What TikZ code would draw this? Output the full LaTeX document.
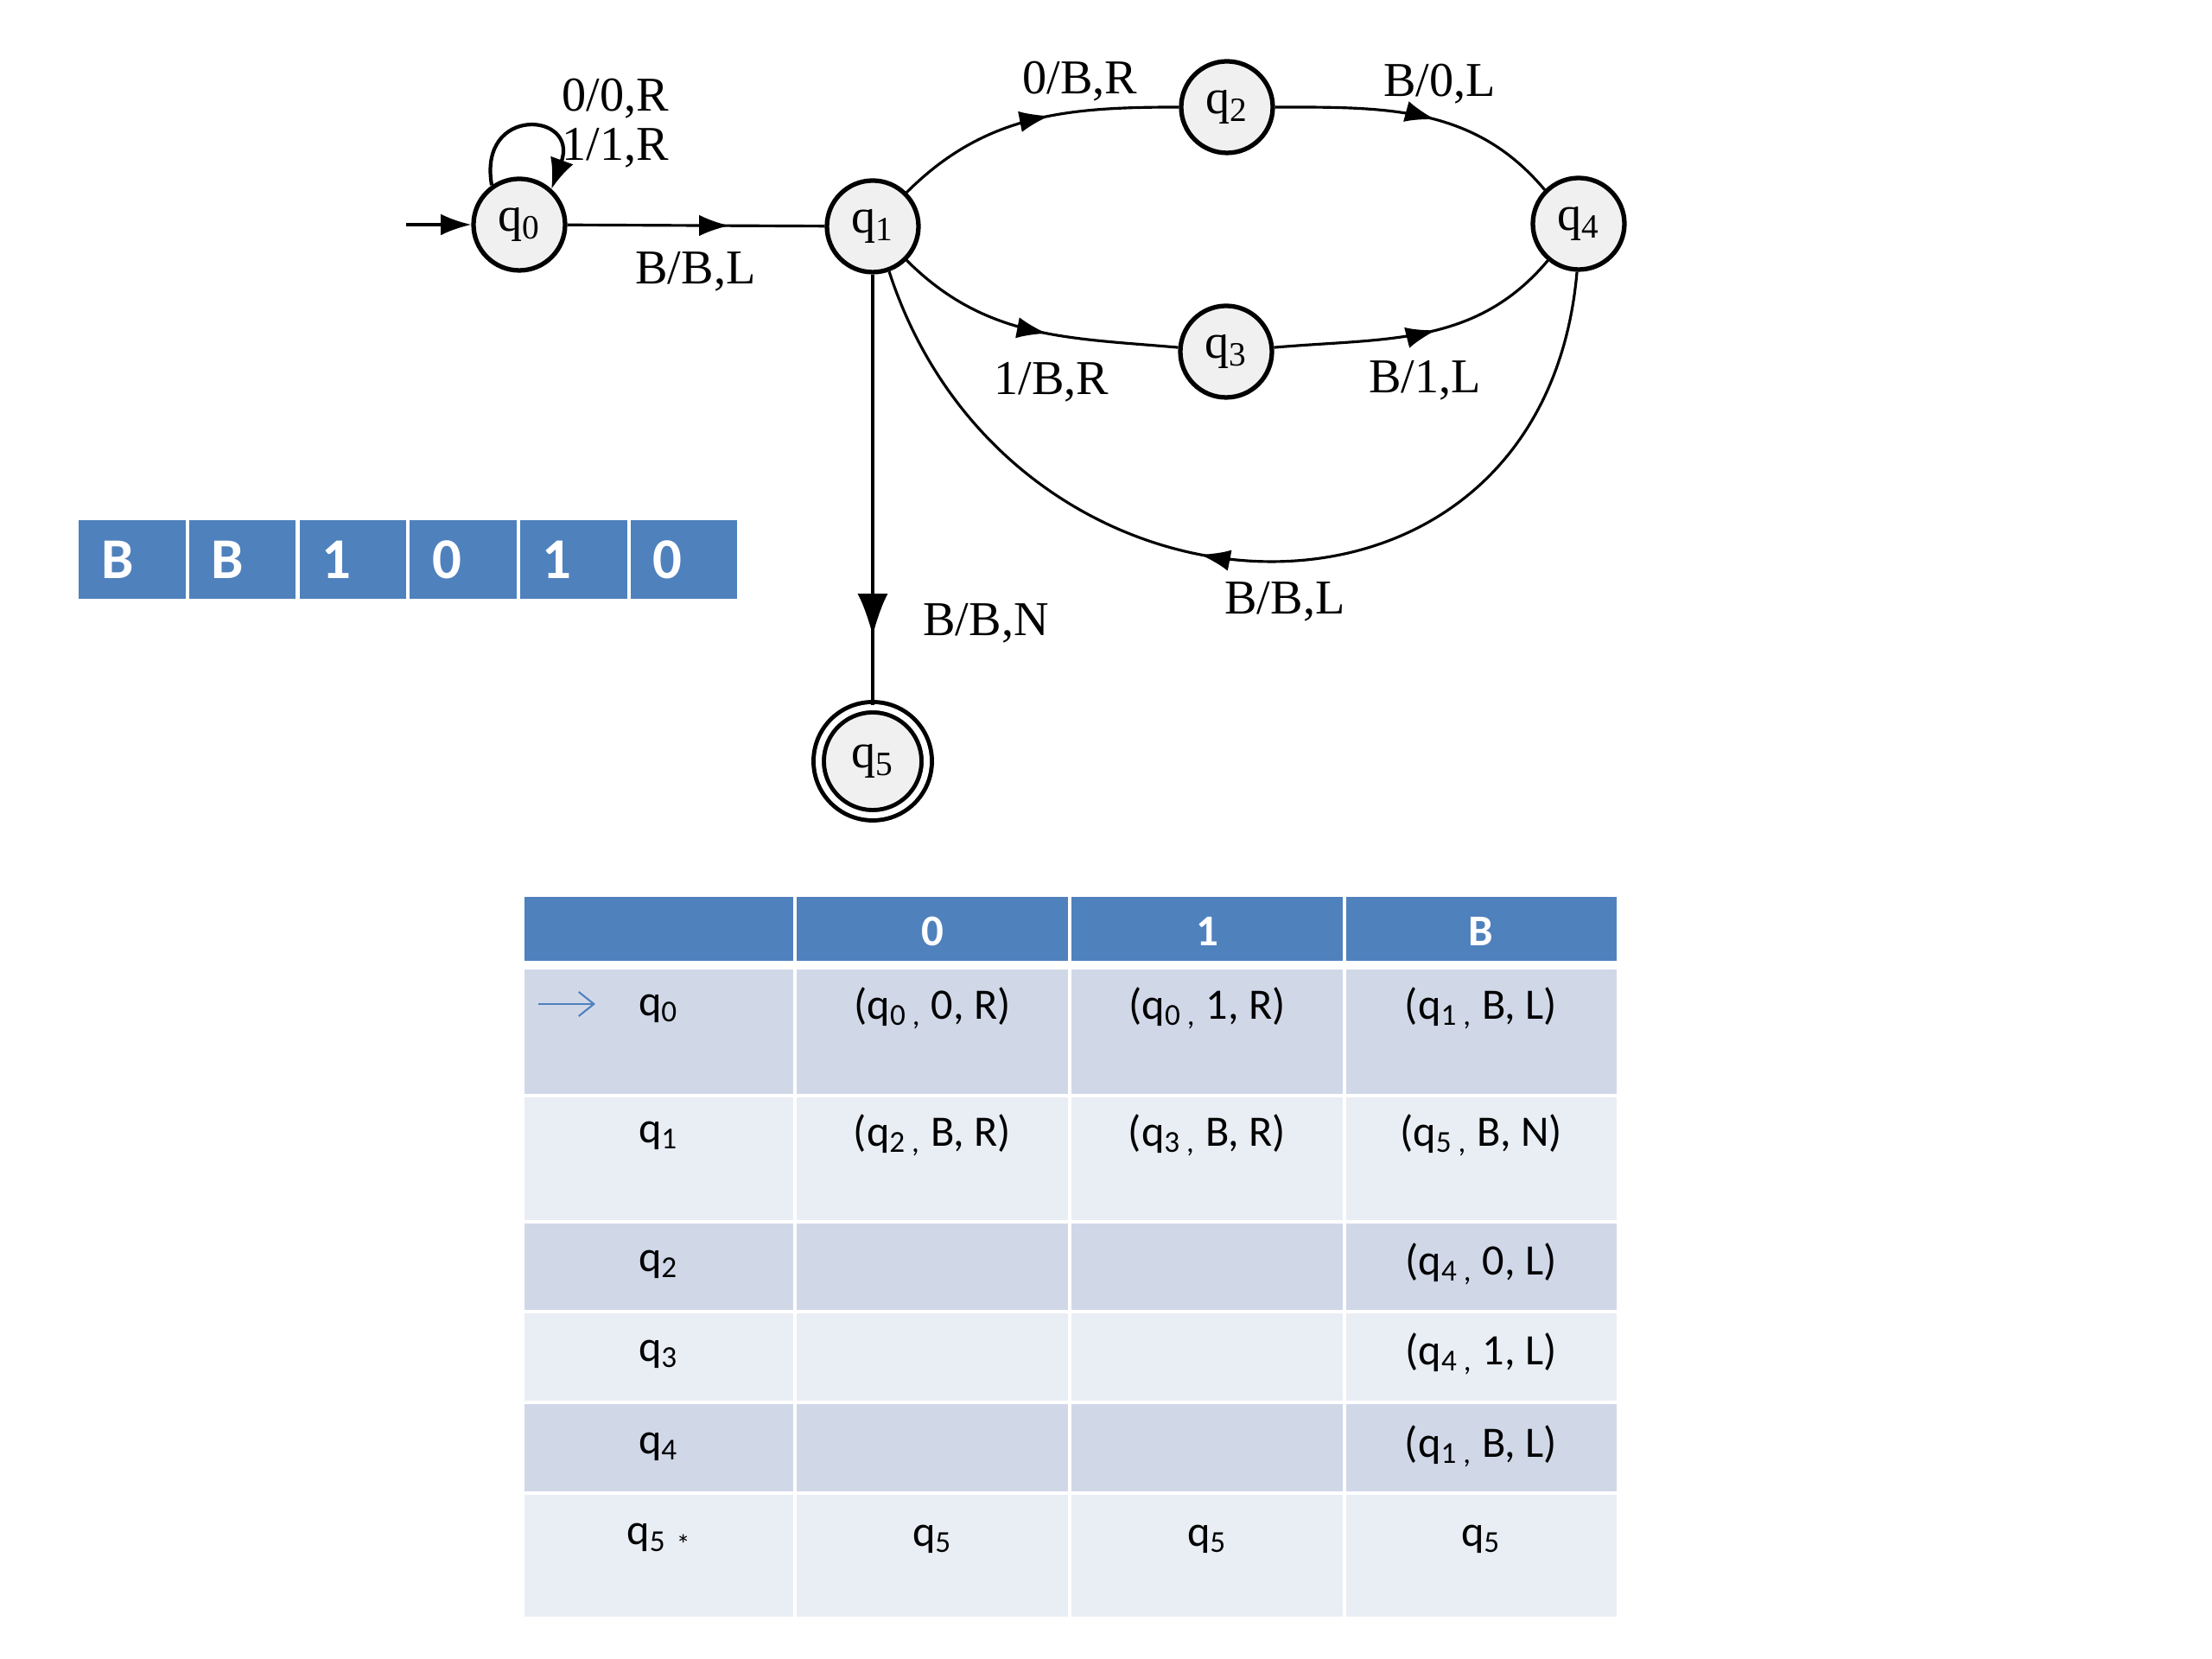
\documentclass[tikz,border=0pt]{standalone}
\usepackage{fontspec}
\setmainfont{Liberation Serif}
\newfontfamily\calibri{Carlito}
\usetikzlibrary{arrows.meta,decorations.markings}
\definecolor{hdrblue}{HTML}{4F81BD}
\definecolor{rowdark}{HTML}{D0D8E8}
\definecolor{rowlight}{HTML}{E9EDF4}
\begin{document}
\begin{tikzpicture}
	\tikzset{state/.style = {shape=circle,draw,line width=1.5pt,fill=gray!12,minimum size=1.06cm,inner sep=0pt,font=\fontsize{16}{18}\selectfont}}
	\tikzset{final/.style = {state,double,double distance=2pt,line width=1.4pt,minimum size=1.25cm}}
	\tikzset{flow/.style = {draw,line width=0.9pt,postaction={decorate},decoration={markings,mark=at position #1 with {\arrow{Latex[length=10pt,width=7pt]}}}}}
	\tikzset{drop/.style = {draw,line width=1pt,postaction={decorate},decoration={markings,mark=at position #1 with {\arrow{Latex[length=14pt,width=10pt]}}}}}
	\tikzset{lbl/.style = {inner sep=1pt,font=\fontsize{16}{18}\selectfont}}
	\tikzset{tapecell/.style = {anchor=south west,fill=hdrblue,draw=white,line width=1.2pt,minimum height=0.95cm,inner xsep=0.28cm,text width=0.717cm,align=left,text=white,font=\calibri\bfseries\fontsize{19}{21}\selectfont}}
	\tikzset{cell/.style = {draw=white,line width=1.2pt}}
	\tikzset{thead/.style = {text=white,font=\calibri\bfseries\fontsize{14.5}{17}\selectfont}}
	\tikzset{tbody/.style = {font=\calibri\fontsize{14.3}{17}\selectfont}}
	\useasboundingbox (0,0) rectangle (25.6,19.2);

	% machine
	\node[state] (q0) at (6.01,16.60) {q\textsubscript{0}};
	\node[state] (q1) at (10.10,16.58) {q\textsubscript{1}};
	\node[state] (q2) at (14.20,17.96) {q\textsubscript{2}};
	\node[state] (q3) at (14.19,15.13) {q\textsubscript{3}};
	\node[state] (q4) at (18.27,16.61) {q\textsubscript{4}};
	\node[final] (q5) at (10.10,10.39) {q\textsubscript{5}};
	\coordinate (start) at (4.70,16.60);

	\draw[line width=0.9pt,-{Latex[length=10pt,width=7pt]}] (start) -- (q0);
	\draw[line width=1.2pt,-{Latex[length=10pt,width=8pt]}] (q0.125) to[out=100,in=70,looseness=3.5] (q0.48);
	\path (q0) edge[flow=.63] (q1);
	\path (q1.45) edge[flow=.56,out=45,in=180] (q2.180);
	\path (q2.0) edge[flow=.55,out=0,in=130] (q4.135);
	\path (q1.-45) edge[flow=.55,out=-45,in=175] (q3.175);
	\path (q3.5) edge[flow=.55,out=5,in=-130] (q4.-130);
	\path (q4.-92) edge[flow=.55,out=-95,in=-72,looseness=1.48] (q1.-70);
	\path (q1) edge[drop=.84] (q5);

	\node[lbl] (l00) at (7.12,18.06) {0/0,R};
	\node[lbl] (l11) at (7.12,17.49) {1/1,R};
	\node[lbl] (lq01) at (8.05,16.06) {B/B,L};
	\node[lbl] (lq12) at (12.50,18.26) {0/B,R};
	\node[lbl] (lq24) at (16.66,18.23) {B/0,L};
	\node[lbl] (lq13) at (12.17,14.78) {1/B,R};
	\node[lbl] (lq34) at (16.49,14.80) {B/1,L};
	\node[lbl] (lq15) at (11.41,11.99) {B/B,N};
	\node[lbl] (lq41) at (14.87,12.24) {B/B,L};

	% tape
	\foreach \s [count=\i from 0] in {B,B,1,0,1,0}
		\node[tapecell] (cell\i) at ({0.87+1.277*\i},12.23) {\s};

	% transition table
	\foreach \ya/\yb/\col in {8.84/8.03/hdrblue,8.03/6.52/rowdark,6.52/5.06/rowlight,5.06/4.02/rowdark,4.02/2.97/rowlight,2.97/1.92/rowdark,1.92/0.47/rowlight}
		\foreach \xa/\xb in {6.05/9.20,9.20/12.38,12.38/15.56,15.56/18.73}
			\draw[cell,fill=\col] (\xa,\ya) rectangle (\xb,\yb);
	\draw[white,line width=3pt] (6.05,8.03) -- (18.73,8.03);

	\node[thead] (h0) at (10.79,8.42) {0};
	\node[thead] (h1) at (13.97,8.42) {1};
	\node[thead] (hB) at (17.14,8.42) {B};

	\coordinate (arrA) at (6.23,7.58);
	\coordinate (arrB) at (6.89,7.58);
	\draw[hdrblue,line width=0.6pt,-{Straight Barb[length=5pt,width=8pt]}] (arrA) -- (arrB);

	\node[tbody] (r0) at (7.62,7.53) {q\textsubscript{0}};
	\node[tbody] (r0a) at (10.79,7.53) {(q\textsubscript{0 ,} 0, R)};
	\node[tbody] (r0b) at (13.97,7.53) {(q\textsubscript{0 ,} 1, R)};
	\node[tbody] (r0c) at (17.14,7.53) {(q\textsubscript{1 ,} B, L)};
	\node[tbody] (r1) at (7.62,6.06) {q\textsubscript{1}};
	\node[tbody] (r1a) at (10.79,6.06) {(q\textsubscript{2 ,} B, R)};
	\node[tbody] (r1b) at (13.97,6.06) {(q\textsubscript{3 ,} B, R)};
	\node[tbody] (r1c) at (17.14,6.06) {(q\textsubscript{5 ,} B, N)};
	\node[tbody] (r2) at (7.62,4.57) {q\textsubscript{2}};
	\node[tbody] (r2c) at (17.14,4.57) {(q\textsubscript{4 ,} 0, L)};
	\node[tbody] (r3) at (7.62,3.53) {q\textsubscript{3}};
	\node[tbody] (r3c) at (17.14,3.53) {(q\textsubscript{4 ,} 1, L)};
	\node[tbody] (r4) at (7.62,2.46) {q\textsubscript{4}};
	\node[tbody] (r4c) at (17.14,2.46) {(q\textsubscript{1 ,} B, L)};
	\node[tbody] (r5) at (7.62,1.39) {q\textsubscript{5} \raisebox{-0.45ex}{\small *}};
	\node[tbody] (r5a) at (10.79,1.39) {q\textsubscript{5}};
	\node[tbody] (r5b) at (13.97,1.39) {q\textsubscript{5}};
	\node[tbody] (r5c) at (17.14,1.39) {q\textsubscript{5}};
\end{tikzpicture}
\end{document}
